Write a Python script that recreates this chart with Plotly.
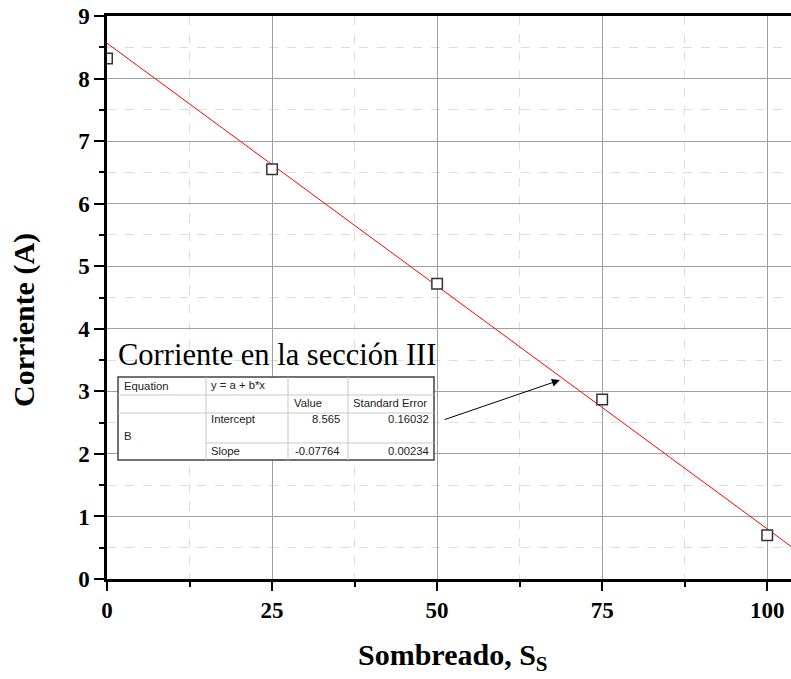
import plotly.graph_objects as go

# Sombreado vs corriente, sección III
sombreado = [0, 25, 50, 75, 100]
corriente = [8.32, 6.55, 4.72, 2.87, 0.70]

# linear fit results (from the table)
intercept = 8.565
slope = -0.07764
intercept_err = 0.16032
slope_err = 0.00234
fit_x = [0, 103.6]

serif = "Liberation Serif, Times New Roman, serif"
sans = "Liberation Sans, Arial, sans-serif"

# plot area in pixels: left 107, right 791, top 16, bottom 579
def px(x):
    return (x - 107) / 684

def py(y):
    return (579 - y) / 563

fig = go.Figure()

fig.add_trace(go.Scatter(
    x=fit_x, y=[intercept + slope * v for v in fit_x],
    mode='lines', line=dict(color='red', width=1), showlegend=False))

fig.add_trace(go.Scatter(
    x=sombreado, y=corriente, mode='markers',
    marker=dict(symbol='square', size=10.5, color='white',
                line=dict(color='#333333', width=1.5)),
    showlegend=False))

# table box
shapes = []
shapes.append(dict(type='rect', xref='paper', yref='paper',
                   x0=px(118), x1=px(434), y0=py(460), y1=py(377),
                   fillcolor='white', line=dict(color='#444444', width=1.5),
                   layer='above'))
inner = dict(color='#c8c8c8', width=1)
for yy, xa in [(395, 118), (413, 118), (443, 206)]:
    shapes.append(dict(type='line', xref='paper', yref='paper',
                       x0=px(xa), x1=px(434), y0=py(yy), y1=py(yy), line=inner))
for xx in [206, 288, 348]:
    shapes.append(dict(type='line', xref='paper', yref='paper',
                       x0=px(xx), x1=px(xx), y0=py(460), y1=py(377), line=inner))

annotations = []
cells = [
    ("Equation", 122, 386, 'left'),
    ("y = a + b*x", 209, 385, 'left'),
    ("Value", 292, 403, 'left'),
    ("Standard Error", 351, 403, 'left'),
    ("Intercept", 209, 419, 'left'),
    (f"{intercept}", 342, 419, 'right'),
    (f"{intercept_err}", 431, 419, 'right'),
    ("B", 122, 436, 'left'),
    ("Slope", 209, 451, 'left'),
    (f"{slope}", 342, 451, 'right'),
    (f"{slope_err:.5f}", 431, 451, 'right'),
]
for text, cx, cy, anchor in cells:
    annotations.append(dict(text=text, xref='paper', yref='paper',
                            x=px(cx), y=py(cy), xanchor=anchor, yanchor='middle',
                            showarrow=False, font=dict(family=sans, size=11.3, color='#222222')))

annotations.append(dict(text="Corriente en la sección III", xref='paper', yref='paper',
                        x=px(116), y=py(355), xanchor='left', yanchor='middle',
                        showarrow=False, font=dict(family=serif, size=30.5, color='black')))

# axis titles
title_font = dict(family=serif, size=30, color='black', weight='bold')
annotations.append(dict(text="Corriente (A)", xref='paper', yref='paper',
                        x=px(24), y=py(320), xanchor='center', yanchor='middle',
                        textangle=-90, showarrow=False, font=title_font))
annotations.append(dict(text="Sombreado, S<sub>S</sub>", xref='paper', yref='paper',
                        x=px(453), y=py(657), xanchor='center', yanchor='middle',
                        showarrow=False, font=title_font))

# arrow pointing at the fit line
annotations.append(dict(text='', x=68.6, y=3.18, ax=50.9, ay=2.54,
                        xref='x', yref='y', axref='x', ayref='y',
                        showarrow=True, arrowhead=2, arrowsize=1.6,
                        arrowwidth=1, arrowcolor='black'))

fig.update_layout(
    width=791, height=679,
    margin=dict(l=107, r=0, t=16, b=100),
    plot_bgcolor='white', paper_bgcolor='white',
    shapes=shapes, annotations=annotations,
    xaxis=dict(
        range=[0, 103.6], tick0=0, dtick=25, automargin=False,
        showline=True, linewidth=2.5, linecolor='black', mirror=True,
        ticks='outside', ticklen=9, tickwidth=2, tickcolor='black',
        showgrid=True, gridcolor='#a0a0a0', gridwidth=1, zeroline=False,
        minor=dict(dtick=12.5, ticks='outside', ticklen=5, tickwidth=1.5,
                   tickcolor='black', showgrid=True, gridcolor='#dddddd',
                   griddash='dash'),
        tickfont=dict(family=serif, size=23, color='black', weight='bold'),
    ),
    yaxis=dict(
        range=[0, 9], tick0=0, dtick=1, automargin=False,
        showline=True, linewidth=2.5, linecolor='black',
        ticks='outside', ticklen=10, tickwidth=2, tickcolor='black',
        showgrid=True, gridcolor='#a0a0a0', gridwidth=1, zeroline=False,
        minor=dict(dtick=0.5, ticks='outside', ticklen=5, tickwidth=1.5,
                   tickcolor='black', showgrid=True, gridcolor='#dddddd',
                   griddash='dash'),
        tickfont=dict(family=serif, size=23, color='black', weight='bold'),
    ),
)

# the page body has a default margin; remove it so the figure sits at 0,0
fig.write_html("out.html", config={'displayModeBar': False},
               post_script="document.body.style.margin='0';")
